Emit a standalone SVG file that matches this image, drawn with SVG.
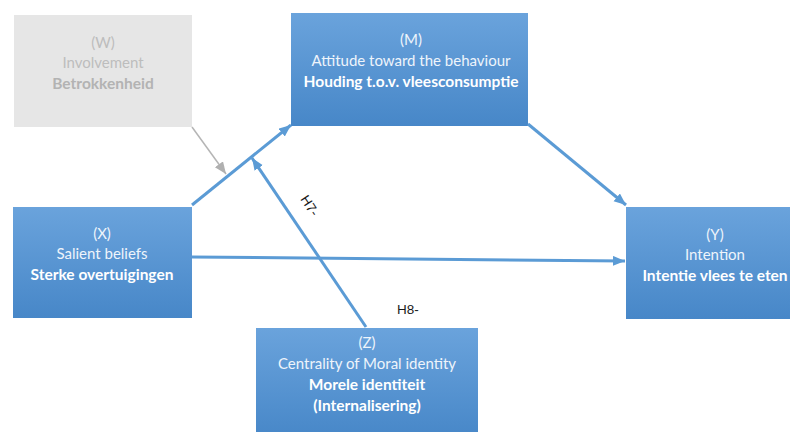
<svg xmlns="http://www.w3.org/2000/svg" width="790" height="432" viewBox="0 0 790 432">
<defs>
<linearGradient id="blue" x1="0" y1="0" x2="0" y2="1">
<stop offset="0" stop-color="#6aa3dc"/>
<stop offset="1" stop-color="#4787c8"/>
</linearGradient>
<marker id="ab" markerUnits="userSpaceOnUse" markerWidth="14" markerHeight="12" refX="12" refY="5" orient="auto">
<path d="M0,0 L12,5 L0,10 z" fill="#5b9bd5"/>
</marker>
<marker id="ag" markerUnits="userSpaceOnUse" markerWidth="14" markerHeight="12" refX="12" refY="5" orient="auto">
<path d="M0,0 L12,5 L0,10 z" fill="#b0b0b0"/>
</marker>
<style>
.box{fill:url(#blue);}
.t{font-family:Lato,"Liberation Sans",sans-serif;font-size:15px;fill:#eef4fb;text-anchor:middle;}
.b{font-weight:bold;fill:#ffffff;font-size:15.5px;}
.g{fill:#bdbdbd;}
.gb{fill:#b3b3b3;font-weight:bold;font-size:15.5px;}
.c{fill:none;stroke:#5b9bd5;stroke-width:3;marker-end:url(#ab);}
.cg{fill:none;stroke:#b5b5b5;stroke-width:1.5;marker-end:url(#ag);}
.lab{font-family:"Liberation Sans",Arial,sans-serif;font-size:13.5px;fill:#1a1a1a;}
</style>
</defs>
<rect width="790" height="432" fill="#ffffff"/>
<g id="node-W">
<rect x="14" y="15" width="178" height="112" fill="#e6e6e6"/>
<text class="t g" x="103" y="48">(W)</text>
<text class="t g" x="103" y="68">Involvement</text>
<text class="t gb" x="103" y="89">Betrokkenheid</text>
</g>
<g id="node-M">
<rect class="box" x="291" y="13" width="237" height="113"/>
<text class="t" x="411" y="45">(M)</text>
<text class="t" x="411" y="66">Attitude toward the behaviour</text>
<text class="t b" x="411" y="87">Houding t.o.v. vleesconsumptie</text>
</g>
<g id="node-X">
<rect class="box" x="13" y="207" width="179" height="111"/>
<text class="t" x="102" y="239">(X)</text>
<text class="t" x="102" y="259">Salient beliefs</text>
<text class="t b" x="102" y="280">Sterke overtuigingen</text>
</g>
<g id="node-Y">
<rect class="box" x="626" y="207" width="180" height="112"/>
<text class="t" x="715" y="240">(Y)</text>
<text class="t" x="715" y="260">Intention</text>
<text class="t b" x="715" y="281">Intentie vlees te eten</text>
</g>
<g id="node-Z">
<rect class="box" x="256" y="328" width="222" height="110"/>
<text class="t" x="367" y="348">(Z)</text>
<text class="t" x="367" y="369">Centrality of Moral identity</text>
<text class="t b" x="367" y="390">Morele identiteit</text>
<text class="t b" x="367" y="411">(Internalisering)</text>
</g>
<g id="connectors">
<path class="c" d="M192,205 L291,125"/>
<path class="c" d="M528,124 L626,205"/>
<path class="c" d="M192,257 L625,261"/>
<path class="c" d="M366,327 L252,158"/>
<path class="cg" d="M192,127 L226,174"/>
<text class="lab" x="0" y="0" transform="translate(300,199) rotate(57)">H7-</text>
<text class="lab" x="397" y="314">H8-</text>
</g>
</svg>
